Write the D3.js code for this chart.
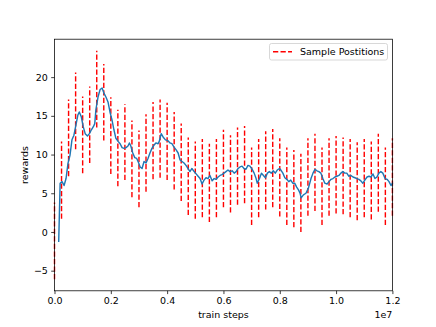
<!DOCTYPE html>
<html>
<head>
<meta charset="utf-8">
<script src="https://cdn.jsdelivr.net/npm/d3@7"></script>
<style>
  body { margin: 0; background: #fff; }
  text { font-family: "DejaVu Sans", sans-serif; }
</style>
</head>
<body>
<div id="chart"></div>
<script>
// sample positions (millions of steps) and their low / high rewards
var sampleSteps = [0, 0.25, 0.5, 0.75, 1, 1.25, 1.5, 1.75, 2, 2.25, 2.5, 2.75, 3, 3.25, 3.5, 3.75,
  4, 4.25, 4.5, 4.75, 5, 5.25, 5.5, 5.75, 6, 6.25, 6.5, 6.75, 7, 7.25, 7.5, 7.75,
  8, 8.25, 8.5, 8.75, 9, 9.25, 9.5, 9.75, 10, 10.25, 10.5, 10.75, 11, 11.25, 11.5, 11.75, 12];
var sampleLow = [-6.1, 1.7, 7.2, 10.7, 7.6, 8.9, 13.5, 11.8, 7.5, 5.9, 6.7, 4.5, 3.2, 5.2, 6.8, 7.0,
  6.7, 5.5, 4.0, 2.2, 1.7, 1.9, 1.3, 1.9, 3.2, 2.5, 3.5, 3.7, 0.9, 1.9, 2.9, 3.2,
  2.0, 0.9, 0.6, 0.0, 2.1, 2.7, 0.9, 2.1, 2.4, 2.3, 1.9, 1.5, 1.9, 1.6, 2.6, 0.9, 2.1];
var sampleHigh = [3.8, 11.7, 17.1, 20.6, 17.5, 18.8, 23.4, 21.7, 17.4, 15.8, 16.5, 14.4, 13.1, 15.2, 16.8, 17.1,
  16.7, 15.5, 14.0, 12.2, 11.7, 12.0, 11.4, 12.0, 13.2, 12.5, 13.5, 13.7, 10.9, 12.0, 13.0, 13.3,
  12.1, 10.9, 10.6, 10.1, 12.1, 12.7, 10.9, 12.1, 12.4, 12.2, 12.0, 11.6, 12.0, 11.7, 12.7, 10.9, 12.1];

// smoothed reward curve (millions of steps, reward)
var curveSteps = [0.15, 0.2, 0.27, 0.34, 0.41, 0.48, 0.55, 0.62, 0.69, 0.76, 0.83, 0.88, 0.95, 1.02, 1.09, 1.17,
  1.24, 1.31, 1.38, 1.43, 1.47, 1.55, 1.62, 1.69, 1.76, 1.83, 1.9, 1.97, 2.04, 2.11, 2.18, 2.26,
  2.33, 2.4, 2.47, 2.54, 2.61, 2.66, 2.71, 2.78, 2.85, 2.92, 2.99, 3.04, 3.11, 3.18, 3.25, 3.32,
  3.39, 3.46, 3.53, 3.6, 3.68, 3.72, 3.79, 3.87, 3.94, 4.03, 4.1, 4.17, 4.24, 4.32, 4.39, 4.46,
  4.53, 4.6, 4.67, 4.74, 4.81, 4.88, 4.96, 5.03, 5.1, 5.17, 5.24, 5.31, 5.38, 5.45, 5.52, 5.6,
  5.67, 5.74, 5.81, 5.88, 5.95, 6.02, 6.09, 6.16, 6.23, 6.31, 6.38, 6.45, 6.52, 6.59, 6.66, 6.73,
  6.8, 6.87, 6.94, 7.02, 7.09, 7.16, 7.2, 7.28, 7.35, 7.42, 7.49, 7.56, 7.63, 7.7, 7.77, 7.84,
  7.91, 7.99, 8.04, 8.11, 8.18, 8.25, 8.32, 8.39, 8.46, 8.53, 8.6, 8.67, 8.72, 8.76, 8.84, 8.93,
  9.02, 9.11, 9.18, 9.25, 9.32, 9.39, 9.46, 9.53, 9.6, 9.68, 9.75, 9.82, 9.89, 9.96, 10.03, 10.1,
  10.17, 10.24, 10.31, 10.38, 10.45, 10.52, 10.6, 10.67, 10.74, 10.81, 10.88, 10.95, 11.02, 11.1, 11.17, 11.24,
  11.31, 11.38, 11.45, 11.52, 11.59, 11.66, 11.74, 11.81, 11.88, 11.95, 12.0];
var curveReward = [-1.2, 6.3, 6.5, 6.0, 6.9, 8.9, 9.9, 11.9, 12.5, 13.8, 15.1, 15.5, 14.9, 13.6, 12.7, 12.4,
  12.7, 13.2, 13.6, 14.0, 15.8, 17.5, 18.4, 18.6, 17.9, 17.4, 16.8, 15.5, 14.5, 13.2, 12.1, 11.7,
  11.4, 10.9, 10.8, 10.9, 11.1, 11.5, 11.1, 10.2, 9.6, 9.5, 8.9, 8.4, 8.2, 9.1, 8.9, 9.5,
  10.2, 10.8, 11.2, 11.5, 11.4, 11.7, 12.7, 12.2, 11.9, 11.8, 11.5, 11.4, 11.0, 10.6, 10.2, 9.3,
  9.1, 8.9, 8.6, 8.2, 7.8, 8.2, 7.8, 7.5, 7.2, 6.9, 6.2, 6.7, 7.0, 6.9, 7.3, 6.6,
  6.9, 6.8, 7.1, 7.3, 7.4, 7.6, 7.8, 8.0, 7.8, 7.9, 7.6, 7.8, 8.2, 8.4, 8.5, 8.2,
  8.1, 8.6, 8.5, 8.1, 7.6, 6.9, 6.3, 6.9, 7.6, 7.3, 7.0, 7.6, 7.8, 7.6, 7.9, 7.6,
  8.0, 8.2, 8.0, 7.6, 7.0, 6.8, 6.5, 6.7, 6.3, 6.3, 5.8, 5.4, 5.0, 4.4, 4.8, 5.0,
  5.7, 6.9, 7.6, 8.1, 7.9, 7.8, 7.6, 6.9, 6.3, 6.2, 6.5, 6.8, 6.9, 7.1, 7.2, 7.3,
  7.6, 7.8, 7.6, 7.6, 7.2, 7.3, 7.1, 7.0, 6.9, 6.8, 6.6, 6.3, 6.7, 7.1, 7.2, 7.1,
  7.5, 6.9, 7.1, 7.6, 7.8, 7.6, 6.9, 6.8, 6.5, 6.0, 6.3];

var xTicks = [0, 0.2e7, 0.4e7, 0.6e7, 0.8e7, 1.0e7, 1.2e7];
var xTickLabels = ["0.0", "0.2", "0.4", "0.6", "0.8", "1.0", "1.2"];
var yTicks = [-5, 0, 5, 10, 15, 20];

var width = 436,
    height = 327;
var axLeft = 54.5, axRight = 392.4, axTop = 39.2, axBottom = 290.8;

var svg = d3.select("#chart").append("svg")
    .attr("width", width)
    .attr("height", height);

var x = d3.scaleLinear().domain([0, 1.2e7]).range([axLeft, axRight]);
var y = d3.scaleLinear().domain([-7.6, 24.9]).range([axBottom, axTop]);

// red dashed sample ranges, drawn from the low end up like matplotlib
svg.append("g").selectAll("line")
    .data(sampleSteps)
    .enter()
    .append("line")
      .attr("x1", function (d) { return x(d * 1e6); })
      .attr("x2", function (d) { return x(d * 1e6); })
      .attr("y1", function (d, i) { return y(sampleLow[i]); })
      .attr("y2", function (d, i) { return y(sampleHigh[i]); })
      .attr("stroke", "#ff0000")
      .attr("stroke-width", 1.42)
      .attr("stroke-dasharray", "5.25,2.27");

// smoothed curve
var line = d3.line()
    .x(function (d, i) { return x(curveSteps[i] * 1e6); })
    .y(function (d) { return y(d); });

svg.append("path")
    .datum(curveReward)
    .attr("d", line)
    .attr("fill", "none")
    .attr("stroke", "#1f77b4")
    .attr("stroke-width", 1.42)
    .attr("stroke-linejoin", "round")
    .attr("stroke-linecap", "square");

// axes
var xAxis = d3.axisBottom(x)
    .tickValues(xTicks)
    .tickFormat(function (d, i) { return xTickLabels[i]; })
    .tickSize(3.3)
    .tickPadding(3.3);
var yAxis = d3.axisLeft(y)
    .tickValues(yTicks)
    .tickFormat(function (d) { return d < 0 ? "\u2212" + Math.abs(d) : d; })
    .tickSize(3.3)
    .tickPadding(3.3);

var gx = svg.append("g")
    .attr("transform", "translate(0," + axBottom + ")")
    .call(xAxis);
var gy = svg.append("g")
    .attr("transform", "translate(" + axLeft + ",0)")
    .call(yAxis);

[gx, gy].forEach(function (g) {
  g.select(".domain").remove();
  g.selectAll(".tick line").attr("stroke", "#000").attr("stroke-width", 0.76);
  g.selectAll(".tick text")
    .attr("fill", "#000")
    .style("font-family", "DejaVu Sans")
    .style("font-size", "9.5px");
});

// spines
svg.append("rect")
    .attr("x", axLeft)
    .attr("y", axTop)
    .attr("width", axRight - axLeft)
    .attr("height", axBottom - axTop)
    .attr("fill", "none")
    .attr("stroke", "#000")
    .attr("stroke-width", 0.76);

// labels
svg.append("text")
    .attr("x", (axLeft + axRight) / 2)
    .attr("y", 317.5)
    .style("text-anchor", "middle")
    .style("font-size", "9.5px")
    .text("train steps");

svg.append("text")
    .attr("x", axRight)
    .attr("y", 317.5)
    .style("text-anchor", "end")
    .style("font-size", "9.5px")
    .text("1e7");

svg.append("text")
    .attr("transform", "translate(28," + (axTop + axBottom) / 2 + ") rotate(-90)")
    .style("text-anchor", "middle")
    .style("font-size", "9.5px")
    .text("rewards");

// legend
var legend = svg.append("g");
legend.append("rect")
    .attr("x", 269.5)
    .attr("y", 43.5)
    .attr("width", 118)
    .attr("height", 16.5)
    .attr("rx", 2)
    .attr("fill", "#fff")
    .attr("fill-opacity", 0.8)
    .attr("stroke", "#cccccc")
    .attr("stroke-width", 0.76);
legend.append("line")
    .attr("x1", 273)
    .attr("x2", 292)
    .attr("y1", 51.7)
    .attr("y2", 51.7)
    .attr("stroke", "#ff0000")
    .attr("stroke-width", 1.42)
    .attr("stroke-dasharray", "5.25,2.27");
legend.append("text")
    .attr("x", 300)
    .attr("y", 55)
    .style("font-size", "9.5px")
    .text("Sample Postitions");
</script>
</body>
</html>
